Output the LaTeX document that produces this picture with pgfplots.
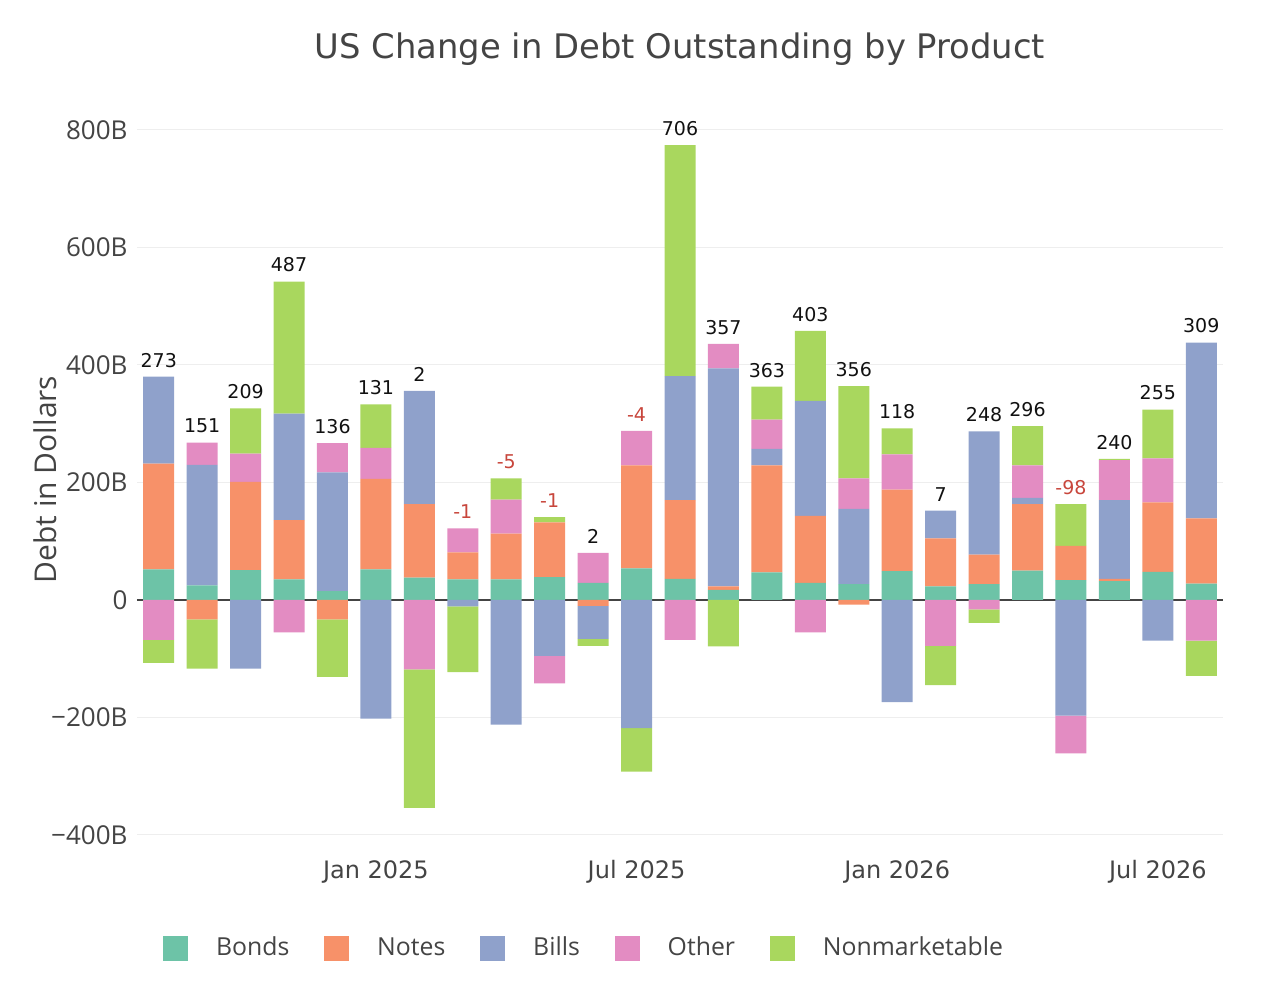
\documentclass[border=0pt]{standalone}
\usepackage{pgfplots}
\pgfplotsset{compat=1.18}
\usepackage{pgfplotstable}
\usepackage{fontspec}
\setmainfont{Open Sans}
\newfontfamily\dejavu{DejaVu Sans}
\definecolor{bondc}{HTML}{6DC3A7}
\definecolor{notec}{HTML}{F79169}
\definecolor{billc}{HTML}{8FA1CB}
\definecolor{otherc}{HTML}{E38CC2}
\definecolor{nmc}{HTML}{A9D75E}
\definecolor{txt}{HTML}{444444}
\definecolor{gridc}{HTML}{EEEEEE}
\definecolor{zeroc}{HTML}{444444}
\definecolor{negred}{HTML}{C8463C}
\definecolor{lblc}{HTML}{111111}

\newcommand\sq[1]{\addlegendimage{legend image code/.code={\fill[#1] (0pt,-6pt) rectangle (12pt,6pt);\path (24pt,0pt);}}}

\pgfplotsset{
  base/.style={
    at={(68.5pt,74.125pt)}, anchor=south west,
    scale only axis, width=543pt, height=367.2pt,
    xmin=-0.5, xmax=24.5, ymin=-420, ymax=830,
    enlargelimits=false, clip=false,
  },
  lbl/.style={only marks, mark=none, point meta=explicit symbolic, nodes near coords,
    every node near coord/.append style={anchor=south, inner sep=0pt, yshift=4.5pt, font=\dejavu\fontsize{9.5}{11}\selectfont}},
}

% month index, Bonds, Notes, Bills, Other, Nonmarketable (billions)
\pgfplotstableread{
idx B N Bi O NM
0 52 180 148 -68 -39
1 25 -33 205 38 -84
2 51 150 -117 48 77
3 35 101 181 -55 225
4 15 -33 202 50 -98
5 52 154 -202 53 74
6 38 125 193 -118 -236
7 35 46 -11 41 -112
8 35 78 -212 58 36
9 39 93 -95 -47 9
10 29 -10 -56 51 -12
11 54 175 -218 59 -74
12 36 134 211 -68 393
13 17 6 371 42 -79
14 47 182 28 50 56
15 29 114 196 -55 119
16 27 -8 128 52 157
17 49 139 -174 60 44
18 23 82 47 -78 -67
19 27 50 210 -16 -23
20 50 113 11 55 67
21 34 58 -197 -64 71
22 32 4 134 68 2
23 48 118 -69 75 83
24 28 111 299 -69 -60
}\data

\begin{document}
\begin{tikzpicture}
\useasboundingbox (0pt,0pt) rectangle (640pt,497.5pt);
% ---- axis 1: frame, grid, positive stack, legend
\begin{axis}[
  base,
  ybar stacked, bar width=15.5pt,
  axis line style={draw=none},
  major tick length=0pt,
  tick style={draw=none},
  xtick={5,11,17,23},
  xticklabels={Jan 2025,Jul 2025,Jan 2026,Jul 2026},
  ytick={-400,-200,0,200,400,600,800},
  yticklabels={−400B,−200B,0,200B,400B,600B,800B},
  ymajorgrids, grid style={gridc, line width=0.5pt},
  extra y ticks={0}, extra y tick labels={},
  extra y tick style={grid style={zeroc, line width=1pt}},
  xticklabel style={font=\dejavu\fontsize{12}{14}\selectfont, text=txt, yshift=-3.2pt},
  yticklabel style={font=\fontsize{13}{15}\selectfont, text=txt, xshift=-1.2pt},
  ylabel={Debt in Dollars},
  ylabel style={font=\fontsize{15}{17}\selectfont, text=txt, at={(axis description cs:-0.0847,0.5)}, anchor=center},
  title={US Change in Debt Outstanding by Product},
  title style={font=\dejavu\fontsize{16.9}{19}\selectfont, text=txt, at={(axis description cs:0.5,1)}, anchor=base, yshift=20.7pt},
  legend columns=5,
  legend style={at={(axis description cs:0.0239,-0.1379)}, anchor=west, draw=none, fill=none, inner sep=0pt,
    font=\fontsize{12.4}{14}\selectfont, text=txt,
    /tikz/every even column/.append style={column sep=15.5pt}},
  legend cell align=left,
]
\sq{bondc}\addlegendentry{Bonds}
\sq{notec}\addlegendentry{Notes}
\sq{billc}\addlegendentry{Bills}
\sq{otherc}\addlegendentry{Other}
\sq{nmc}\addlegendentry{Nonmarketable}
\addplot[fill=bondc, draw=none] table[x=idx, y expr={max(\thisrow{B},0)}] {\data};
\addplot[fill=notec, draw=none] table[x=idx, y expr={max(\thisrow{N},0)}] {\data};
\addplot[fill=billc, draw=none] table[x=idx, y expr={max(\thisrow{Bi},0)}] {\data};
\addplot[fill=otherc, draw=none] table[x=idx, y expr={max(\thisrow{O},0)}] {\data};
\addplot[fill=nmc, draw=none] table[x=idx, y expr={max(\thisrow{NM},0)}] {\data};
\end{axis}
% ---- axis 2: negative stack
\begin{axis}[base, hide axis, ybar stacked, bar width=15.5pt]
\addplot[fill=bondc, draw=none] table[x=idx, y expr={min(\thisrow{B},0)}] {\data};
\addplot[fill=notec, draw=none] table[x=idx, y expr={min(\thisrow{N},0)}] {\data};
\addplot[fill=billc, draw=none] table[x=idx, y expr={min(\thisrow{Bi},0)}] {\data};
\addplot[fill=otherc, draw=none] table[x=idx, y expr={min(\thisrow{O},0)}] {\data};
\addplot[fill=nmc, draw=none] table[x=idx, y expr={min(\thisrow{NM},0)}] {\data};
\end{axis}
% ---- axis 3: net total labels above the positive stack
\begin{axis}[base, hide axis]
\addplot[lbl, every node near coord/.append style={text=lblc}] coordinates {
(0,380)[273] (1,268)[151] (2,326)[209] (3,542)[487] (4,267)[136] (5,333)[131]
(6,356)[2] (10,80)[2] (12,774)[706] (13,436)[357] (14,363)[363] (15,458)[403]
(16,364)[356] (17,292)[118] (18,152)[7] (19,287)[248] (20,296)[296] (22,240)[240]
(23,324)[255] (24,438)[309]
};
\addplot[lbl, every node near coord/.append style={text=negred}] coordinates {
(7,122)[-1] (8,207)[-5] (9,141)[-1] (11,288)[-4] (21,163)[-98]
};
\end{axis}
\end{tikzpicture}
\end{document}
